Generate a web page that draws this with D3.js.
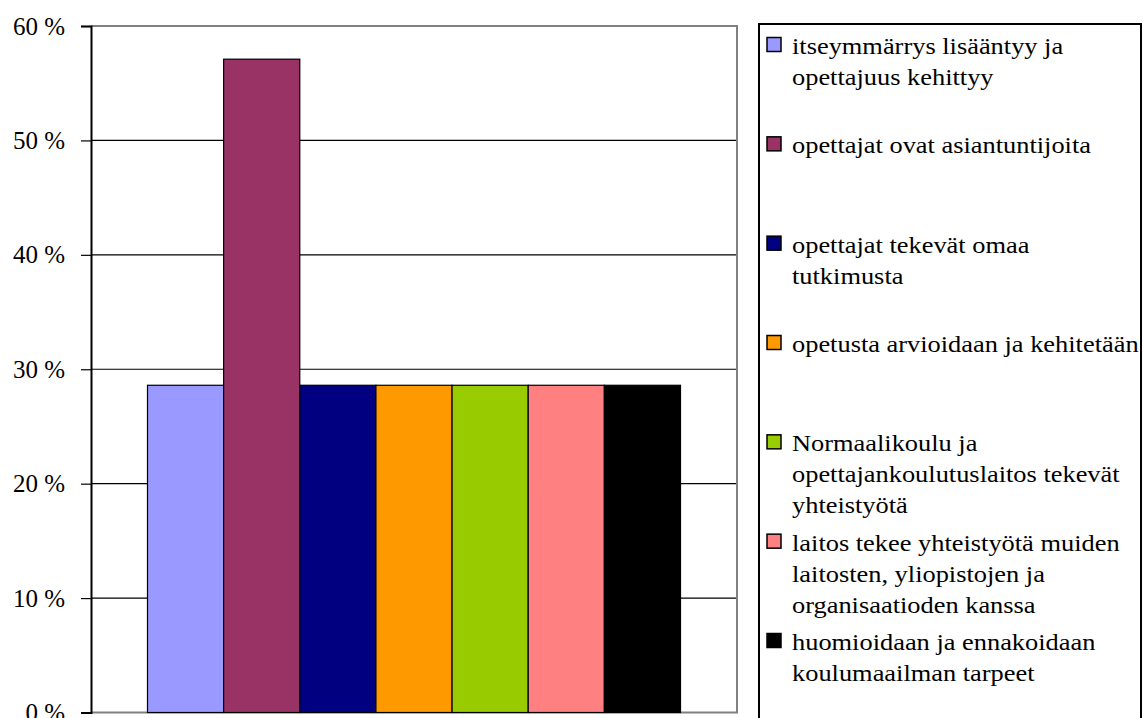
<!DOCTYPE html>
<html>
<head>
<meta charset="utf-8">
<script src="https://cdn.jsdelivr.net/npm/d3@7"></script>
</head>
<body style="margin:0">
<svg id="chart" width="1143" height="718"></svg>
<script>
// Series labels, one line per array entry as they wrap in the legend
const seriesLines = [
  ["itseymmärrys lisääntyy ja", "opettajuus kehittyy"],
  ["opettajat ovat asiantuntijoita"],
  ["opettajat tekevät omaa", "tutkimusta"],
  ["opetusta arvioidaan ja kehitetään"],
  ["Normaalikoulu ja", "opettajankoulutuslaitos tekevät", "yhteistyötä"],
  ["laitos tekee yhteistyötä muiden", "laitosten, yliopistojen ja", "organisaatioden kanssa"],
  ["huomioidaan ja ennakoidaan", "koulumaailman tarpeet"]
];
const seriesNames = seriesLines.map(l => l.join(" "));
// Share of respondents per series
const seriesValues = [0.286, 0.571, 0.286, 0.286, 0.286, 0.286, 0.286];
const seriesColors = ["#9999FF", "#993366", "#000080", "#FF9900", "#99CC00", "#FF8080", "#000000"];
const yTicks = [0, 0.1, 0.2, 0.3, 0.4, 0.5, 0.6];
const categories = [""];

const svg = d3.select("#chart");
const plot = { left: 91, right: 737, top: 26, bottom: 712.5 };

const y = d3.scaleLinear().domain([0, 0.6]).range([plot.bottom, plot.top]);
const x0 = d3.scaleBand().domain(categories).range([plot.left, plot.right])
  .paddingInner(0).paddingOuter(0.106);
const x1 = d3.scaleBand().domain(seriesNames).range([x0(""), x0("") + x0.bandwidth()]).padding(0);

const fmt = v => `${Math.round(v * 100)} %`;

// Horizontal gridlines
svg.append("g")
  .selectAll("line")
  .data(yTicks.filter(t => t > 0 && t < 0.6))
  .join("line")
  .attr("x1", plot.left).attr("x2", plot.right)
  .attr("y1", d => y(d)).attr("y2", d => y(d))
  .attr("stroke", "#000").attr("stroke-width", 1.2);

// Plot area border (grey)
svg.append("path")
  .attr("d", `M${plot.left},${plot.top}H${plot.right}V${plot.bottom}H${plot.left}`)
  .attr("fill", "none").attr("stroke", "#808080").attr("stroke-width", 2);

// Bars
svg.append("g")
  .selectAll("rect")
  .data(seriesValues.map((v, i) => ({ name: seriesNames[i], v, c: seriesColors[i] })))
  .join("rect")
  .attr("x", d => x1(d.name))
  .attr("width", x1.bandwidth())
  .attr("y", d => y(d.v))
  .attr("height", d => y(0) - y(d.v))
  .attr("fill", d => d.c)
  .attr("stroke", "#000").attr("stroke-width", 1.2);

// Value axis: ticks and lines from d3.axisLeft, labels drawn as plain text
const yAxis = d3.axisLeft(y).tickValues(yTicks).tickFormat("").tickSize(10);
const ga = svg.append("g").attr("transform", `translate(${plot.left},0)`).call(yAxis);
ga.select(".domain").attr("stroke", "#000").attr("stroke-width", 2);
ga.selectAll(".tick line").attr("stroke", "#000").attr("stroke-width", 1.2);
ga.selectAll(".tick text").remove();

svg.selectAll("text.ylab")
  .data(yTicks)
  .join("text")
  .attr("class", "ylab")
  .attr("x", 65)
  .attr("y", d => y(d) + 8.5)
  .attr("text-anchor", "end")
  .attr("font-size", 25)
  .attr("font-family", d => "Liberation Serif")
  .text(fmt);

// Legend
const lg = { left: 759, top: 24, right: 1141, bottom: 740 };
svg.append("rect")
  .attr("x", lg.left).attr("y", lg.top)
  .attr("width", lg.right - lg.left).attr("height", lg.bottom - lg.top)
  .attr("fill", "#fff").attr("stroke", "#000").attr("stroke-width", 2);

const entryY = d3.scalePoint().domain(seriesNames).range([54, 650]);
const lineH = 31;

svg.selectAll("rect.swatch")
  .data(seriesNames)
  .join("rect")
  .attr("class", "swatch")
  .attr("x", 767).attr("y", d => entryY(d) - 16.5).attr("width", 14).attr("height", 14)
  .attr("fill", (d, i) => seriesColors[i])
  .attr("stroke", "#000").attr("stroke-width", 1.5);

const legendRows = seriesNames.flatMap((n, i) =>
  seriesLines[i].map((line, j) => ({ line, yy: entryY(n) + j * lineH })));

svg.selectAll("text.leg")
  .data(legendRows)
  .join("text")
  .attr("class", "leg")
  .attr("transform", d => `translate(792,${d.yy}) scale(1.1,1)`)
  .attr("font-size", 24)
  .attr("font-family", d => "Liberation Serif")
  .text(d => d.line);
</script>
</body>
</html>
